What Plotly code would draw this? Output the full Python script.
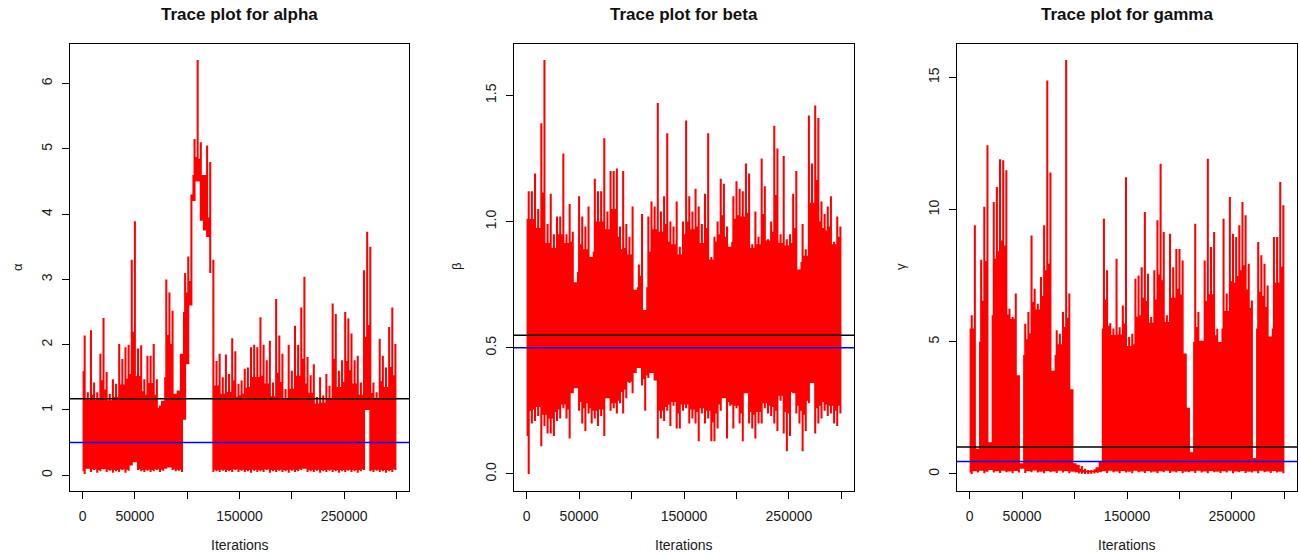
import plotly.graph_objects as go

# ---------------- data ----------------
# Per bin of 3000 iterations: extreme low / extreme high of the chain.
bin_size = 3000
n_iter = 300000
seg_bins = 5  # the dense "body" levels below are read per 15000 iterations

alpha_high = [2.14, 1.27, 2.22, 1.42, 1.27, 1.86, 2.41, 1.58, 1.25, 1.47,
              1.40, 2.01, 1.78, 1.96, 2.00, 3.30, 3.89, 1.94, 1.99, 1.47,
              1.83, 1.83, 2.01, 1.47, 1.07, 1.14, 3.00, 2.80, 2.52, 1.25,
              1.30, 1.86, 3.10, 3.35, 4.30, 5.15, 6.36, 5.10, 4.60, 5.05,
              4.80, 3.30, 1.75, 1.86, 1.50, 1.85, 1.55, 2.10, 1.90, 1.40,
              1.45, 1.63, 1.65, 1.96, 2.00, 1.96, 2.42, 2.00, 1.76, 2.06,
              1.42, 2.70, 2.14, 1.86, 1.32, 2.00, 1.60, 2.29, 2.00, 2.57,
              3.04, 1.81, 1.53, 1.70, 1.20, 1.50, 1.22, 1.55, 1.37, 2.63,
              2.47, 1.60, 1.76, 2.50, 2.40, 2.17, 1.76, 1.83, 1.42, 3.14,
              3.73, 3.50, 1.42, 1.27, 2.09, 1.83, 1.65, 2.27, 2.57, 2.01]
alpha_low = [0.02, 0.10, 0.05, 0.08, 0.04, 0.06, 0.09, 0.05, 0.07, 0.04,
             0.06, 0.05, 0.08, 0.04, 0.07, 0.15, 0.20, 0.08, 0.06, 0.05,
             0.07, 0.05, 0.06, 0.08, 0.05, 0.07, 0.10, 0.12, 0.08, 0.06,
             0.07, 0.05, 0.85, 1.70, 2.60, 4.20, 4.50, 3.90, 3.75, 3.65,
             3.10, 0.05, 0.06, 0.05, 0.07, 0.05, 0.06, 0.05, 0.08, 0.05,
             0.07, 0.05, 0.06, 0.04, 0.07, 0.05, 0.06, 0.05, 0.08, 0.04,
             0.06, 0.05, 0.07, 0.05, 0.06, 0.04, 0.07, 0.05, 0.06, 0.08,
             0.10, 0.05, 0.06, 0.05, 0.07, 0.04, 0.06, 0.05, 0.07, 0.05,
             0.06, 0.04, 0.06, 0.05, 0.07, 0.05, 0.06, 0.04, 0.06, 0.08,
             1.00, 0.06, 0.05, 0.07, 0.05, 0.06, 0.04, 0.06, 0.05, 0.08]
alpha_body_top = [1.05, 1.05, 1.00, 1.10, 1.00, 1.50, 2.50, 4.60, 1.00, 1.00,
                  1.05, 1.05, 1.00, 1.05, 1.00, 1.00, 1.10, 1.05, 1.10, 1.05]
alpha_body_bottom = [0.10] * 20

beta_high = [1.12, 1.12, 1.19, 1.05, 1.39, 1.64, 0.99, 1.11, 0.95, 1.02,
             1.02, 1.27, 0.95, 1.07, 0.96, 0.76, 1.10, 1.02, 0.98, 1.06,
             0.86, 1.17, 1.12, 1.12, 1.33, 1.04, 1.20, 1.20, 1.21, 0.98,
             1.20, 0.99, 0.94, 1.06, 0.73, 0.83, 1.03, 0.65, 1.02, 1.08,
             1.06, 1.47, 1.04, 1.10, 1.35, 1.00, 0.98, 1.08, 0.90, 1.00,
             1.40, 1.10, 1.04, 1.13, 1.06, 0.99, 1.11, 1.35, 0.86, 0.94,
             1.00, 1.17, 1.15, 0.98, 0.90, 1.10, 1.16, 1.13, 1.12, 1.23,
             1.19, 0.91, 1.04, 0.94, 1.25, 1.14, 0.93, 1.00, 1.38, 1.29,
             0.95, 1.26, 0.93, 0.95, 1.11, 1.20, 0.81, 0.99, 0.89, 1.42,
             1.23, 1.46, 1.41, 1.08, 1.03, 1.06, 1.10, 0.92, 1.02, 0.98]
beta_low = [0.00, 0.20, 0.21, 0.23, 0.11, 0.19, 0.16, 0.16, 0.15, 0.21,
            0.22, 0.26, 0.22, 0.14, 0.32, 0.34, 0.25, 0.20, 0.17, 0.24,
            0.20, 0.22, 0.19, 0.23, 0.15, 0.30, 0.25, 0.26, 0.24, 0.28,
            0.24, 0.30, 0.36, 0.32, 0.40, 0.42, 0.35, 0.25, 0.38, 0.40,
            0.37, 0.14, 0.22, 0.21, 0.25, 0.19, 0.27, 0.18, 0.18, 0.25,
            0.26, 0.20, 0.22, 0.20, 0.13, 0.24, 0.20, 0.22, 0.13, 0.13,
            0.18, 0.25, 0.30, 0.14, 0.27, 0.18, 0.26, 0.20, 0.13, 0.32,
            0.20, 0.18, 0.14, 0.20, 0.20, 0.26, 0.24, 0.23, 0.20, 0.17,
            0.29, 0.16, 0.09, 0.15, 0.32, 0.24, 0.20, 0.09, 0.17, 0.28,
            0.36, 0.16, 0.20, 0.22, 0.25, 0.23, 0.24, 0.20, 0.19, 0.24]
beta_body_top = [0.90, 0.84, 0.88, 0.80, 0.88, 0.90, 0.80, 0.74, 0.88, 0.84,
                 0.90, 0.84, 0.90, 0.92, 0.88, 0.92, 0.88, 0.84, 0.92, 0.90]
beta_body_bottom = [0.30, 0.28, 0.29, 0.32, 0.28, 0.30, 0.37, 0.40, 0.28, 0.30,
                    0.29, 0.28, 0.30, 0.28, 0.29, 0.30, 0.33, 0.30, 0.32, 0.30]

gamma_high = [6.00, 9.40, 0.95, 8.10, 10.10, 12.43, 1.20, 10.28, 10.85, 11.90,
              11.86, 11.48, 6.25, 5.93, 6.82, 3.73, 0.40, 5.68, 6.12, 9.02,
              7.00, 6.44, 7.45, 9.40, 14.88, 11.40, 3.90, 5.43, 5.30, 6.12,
              15.65, 6.82, 3.20, 0.40, 0.35, 0.30, 0.20, 0.15, 0.15, 0.18,
              0.25, 0.47, 9.65, 7.70, 5.70, 5.50, 8.14, 5.55, 6.37, 11.22,
              5.18, 5.30, 7.38, 7.50, 7.82, 9.90, 7.57, 5.93, 7.70, 9.59,
              11.73, 9.15, 6.00, 9.08, 7.82, 8.51, 8.51, 8.07, 4.55, 2.50,
              0.82, 9.46, 6.12, 5.05, 8.07, 11.92, 8.58, 9.15, 5.49, 4.99,
              9.65, 6.82, 10.47, 9.08, 8.96, 9.40, 10.28, 9.78, 7.95, 6.56,
              0.60, 8.77, 8.27, 7.95, 7.13, 5.20, 8.96, 8.96, 11.04, 10.16]
gamma_low = [0.00, 0.10, 0.05, 0.12, 0.03, 0.08, 0.15, 0.05, 0.10, 0.04,
             0.12, 0.06, 0.09, 0.03, 0.11, 0.05, 0.20, 0.04, 0.10, 0.06,
             0.13, 0.05, 0.08, 0.03, 0.11, 0.06, 0.09, 0.04, 0.12, 0.05,
             0.10, 0.03, 0.08, 0.05, 0.02, 0.01, 0.00, 0.00, 0.01, 0.02,
             0.04, 0.06, 0.10, 0.04, 0.12, 0.06, 0.09, 0.03, 0.11, 0.05,
             0.08, 0.03, 0.12, 0.06, 0.09, 0.04, 0.11, 0.05, 0.08, 0.03,
             0.10, 0.06, 0.12, 0.04, 0.09, 0.05, 0.11, 0.03, 0.08, 0.06,
             0.10, 0.04, 0.12, 0.05, 0.09, 0.03, 0.11, 0.06, 0.08, 0.04,
             0.10, 0.05, 0.12, 0.03, 0.09, 0.06, 0.11, 0.04, 0.08, 0.05,
             0.10, 0.03, 0.12, 0.06, 0.09, 0.04, 0.11, 0.05, 0.08, 0.03]
gamma_body_top = [5.0, 6.0, 5.8, 4.5, 6.0, 4.5, 5.0, 0.1, 5.5, 5.0,
                  4.5, 5.5, 5.5, 5.5, 5.0, 5.0, 5.5, 6.0, 5.5, 5.5]
gamma_body_bottom = [0.10] * 20

titles = ["Trace plot for alpha", "Trace plot for beta", "Trace plot for gamma"]
y_labels = ["\u03b1", "\u03b2", "\u03b3"]
x_tick_values = [0, 50000, 100000, 150000, 200000, 250000, 300000]
x_tick_labels = ["0", "50000", "", "150000", "", "250000", ""]
y_tick_values = [[0, 1, 2, 3, 4, 5, 6], [0.0, 0.5, 1.0, 1.5], [0, 5, 10, 15]]
y_tick_labels = [["0", "1", "2", "3", "4", "5", "6"], ["0.0", "0.5", "1.0", "1.5"], ["0", "5", "10", "15"]]
black_line = [1.17, 0.55, 1.02]
blue_line = [0.50, 0.50, 0.47]

series = [(alpha_low, alpha_high, alpha_body_bottom, alpha_body_top),
          (beta_low, beta_high, beta_body_bottom, beta_body_top),
          (gamma_low, gamma_high, gamma_body_bottom, gamma_body_top)]

# ---------------- layout geometry (pixels) ----------------
W, H = 1299, 554
panels_px = [(70, 409), (514, 854), (957, 1297)]
frame_top, frame_bottom = 43.5, 490.5
ylabel_x = [17, 456, 900]


def px_x(p):
    return p / W


def px_y(p):
    return 1 - p / H


def edge_path(extremes, slits, slit=0.35):
    """Step path per bin: a narrow slit between neighbouring excursions, then the bin's extreme value."""
    xs, ys = [], []
    for i, (ext, s) in enumerate(zip(extremes, slits)):
        x0 = i * bin_size
        xs += [x0, x0 + bin_size * slit]
        ys += [s, ext]
    xs.append(len(extremes) * bin_size)
    ys.append(extremes[-1])
    return xs, ys


fig = go.Figure()
annotations = []
shapes = []
font_family = "Liberation Sans, Arial, Helvetica, sans-serif"
RED = "#ff0000"

for k in range(3):
    sfx = "" if k == 0 else str(k + 1)
    lows, highs, body_bottom, body_top = series[k]
    s_hi, s_lo = [], []
    for i, (lo_v, hi_v) in enumerate(zip(lows, highs)):
        prev_hi = highs[i - 1] if i > 0 else hi_v
        prev_lo = lows[i - 1] if i > 0 else lo_v
        dense_top = max(body_top[i // seg_bins], lo_v)
        dense_bot = body_bottom[i // seg_bins]
        # slit reaches half-way from the lower neighbour down to the dense band
        top = min(hi_v, prev_hi, (dense_top + min(hi_v, prev_hi)) / 2)
        top = max(top, min(hi_v, dense_top))
        bot = max(lo_v, prev_lo, (dense_bot + max(lo_v, prev_lo)) / 2)
        bot = min(bot, top)
        s_hi.append(top)
        s_lo.append(bot)

    lx, ly = edge_path(lows, s_lo)
    ux, uy = edge_path(highs, s_hi)
    fig.add_trace(go.Scatter(x=lx, y=ly, mode="lines",
                             line=dict(color=RED, width=0, shape="hv", simplify=False),
                             xaxis="x" + sfx, yaxis="y" + sfx,
                             hoverinfo="skip", showlegend=False))
    fig.add_trace(go.Scatter(x=ux, y=uy, mode="lines",
                             line=dict(color=RED, width=0, shape="hv", simplify=False),
                             fill="tonexty", fillcolor=RED,
                             xaxis="x" + sfx, yaxis="y" + sfx,
                             hoverinfo="skip", showlegend=False))

    lo = min(lows)
    hi = max(highs)
    pad = 0.04 * (hi - lo)
    xpad = 0.04 * n_iter

    x0p, x1p = panels_px[k]
    fig.layout["xaxis" + sfx] = dict(
        domain=[px_x(x0p), px_x(x1p)], range=[-xpad, n_iter + xpad],
        anchor="y" + sfx, showline=True, mirror=True, linecolor="black", linewidth=1,
        ticks="outside", ticklen=7, tickcolor="black", tickwidth=1,
        tickvals=x_tick_values, ticktext=x_tick_labels,
        tickfont=dict(size=14, color="#1a1a1a", family=font_family),
        showgrid=False, zeroline=False, fixedrange=True, ticklabelstandoff=6)
    fig.layout["yaxis" + sfx] = dict(
        domain=[px_y(frame_bottom), px_y(frame_top)], range=[lo - pad, hi + pad],
        anchor="x" + sfx, showline=True, mirror=True, linecolor="black", linewidth=1,
        ticks="outside", ticklen=7, tickcolor="black", tickwidth=1,
        tickvals=y_tick_values[k], ticktext=y_tick_labels[k], tickangle=-90,
        tickfont=dict(size=14, color="#1a1a1a", family=font_family),
        showgrid=False, zeroline=False, fixedrange=True, ticklabelstandoff=4)

    cx = px_x((x0p + x1p) / 2)
    annotations.append(dict(text="<b>" + titles[k] + "</b>", x=cx, y=px_y(14), xref="paper", yref="paper",
                            showarrow=False, xanchor="center", yanchor="middle",
                            font=dict(size=17, color="#111111", family=font_family)))
    annotations.append(dict(text="Iterations", x=cx, y=px_y(545), xref="paper", yref="paper",
                            showarrow=False, xanchor="center", yanchor="middle",
                            font=dict(size=14, color="#1a1a1a", family=font_family)))
    annotations.append(dict(text=y_labels[k], x=px_x(ylabel_x[k]), y=px_y((frame_top + frame_bottom) / 2),
                            xref="paper", yref="paper", textangle=-90,
                            showarrow=False, xanchor="center", yanchor="middle",
                            font=dict(size=13, color="#1a1a1a", family=font_family)))

    for val, col in ((black_line[k], "black"), (blue_line[k], "blue")):
        shapes.append(dict(type="line", xref="x" + sfx + " domain", yref="y" + sfx,
                           x0=0, x1=1, y0=val, y1=val, layer="above",
                           line=dict(color=col, width=1.5)))

fig.update_layout(width=W, height=H, margin=dict(l=0, r=0, t=0, b=0),
                  plot_bgcolor="white", paper_bgcolor="white", showlegend=False,
                  annotations=annotations, shapes=shapes,
                  font=dict(family=font_family, color="black"))

fig.write_html("out.html")
